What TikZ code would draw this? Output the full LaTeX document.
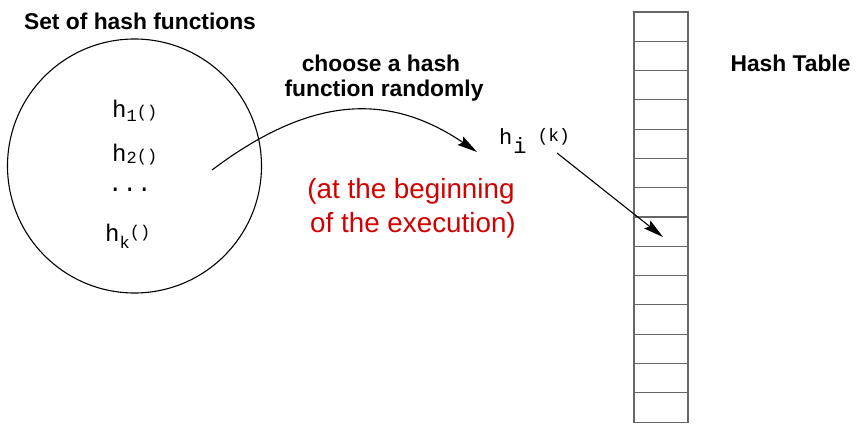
\documentclass[tikz,border=0pt]{standalone}
\usepackage{fontspec}
\setmainfont{Liberation Sans}
\newfontfamily\monof{Liberation Mono}
\usetikzlibrary{arrows.meta}
\definecolor{redtxt}{RGB}{210,0,0}
\tikzset{
  lbl/.style={inner sep=0pt, anchor=base, font=\fontsize{22.8}{26}\selectfont\bfseries},
  redlbl/.style={inner sep=0pt, anchor=base, text=redtxt, font=\fontsize{27.8}{32}\selectfont},
  fn/.style={inner sep=0pt, anchor=base west},
  cell/.style={draw=black!60, line width=1.1pt, minimum width=54pt, minimum height=29.29pt, inner sep=0pt, outer sep=0pt, anchor=north},
  conn/.style={line width=1.1pt, -{Stealth[length=20pt,width=10pt,inset=3pt]}}
}
\newcommand{\hbig}{\fontsize{24}{24}\selectfont\monof}
\newcommand{\hsmall}{\fontsize{17}{17}\selectfont\monof}
\begin{document}
\begin{tikzpicture}[x=1pt,y=-1pt]
\useasboundingbox (0,0) rectangle (864,438);
% set of hash functions
\node[lbl] (settitle) at (140,30) {Set of hash functions};
\node[draw, circle, line width=1.1pt, minimum size=254pt, inner sep=0pt] (set) at (134.5,166) {};
\node[fn] (f1) at (112,118) {{\hbig h}\raisebox{-4pt}{\hsmall 1}{\hsmall ()}};
\node[fn] (f2) at (112,162) {{\hbig h}\raisebox{-2pt}{\hsmall 2}{\hsmall ()}};
\node[fn] (fdots) at (108,192) {{\hbig ...}};
\node[fn] (fk) at (105,242) {{\hbig h}\raisebox{-7pt}{\hsmall k}\raisebox{5pt}{\hsmall ()}};
% labels
\node[lbl] (choose1) at (381,72) {choose a hash};
\node[lbl] (choose2) at (384,97) {function randomly};
\node[redlbl] (red1) at (411,199) {(at the beginning};
\node[redlbl] (red2) at (413,233) {of the execution)};
\node[lbl] (httitle) at (790.5,72) {Hash Table};
% hi(k)
\node[fn] (hi) at (499,145) {{\fontsize{22}{22}\selectfont\monof h}\hspace{1pt}\raisebox{-9pt}{\fontsize{22}{22}\selectfont\monof i}\hspace{11pt}\raisebox{3pt}{\fontsize{18}{18}\selectfont\monof (k)}};
% hash table
\node[cell] (c1) at (661,12) {};
\foreach \i [remember=\i as \j (initially 1)] in {2,...,14}{
  \node[cell] (c\i) at (c\j.south) {};
}
% connectors
\coordinate (a1s) at (212,170);
\coordinate (a1e) at (477,152);
\draw[conn] (a1s) .. controls (309,97) and (387,91) .. (a1e);
\coordinate (a2s) at (557,153);
\coordinate (a2e) at (663,237);
\draw[conn] (a2s) -- (a2e);
\end{tikzpicture}
\end{document}
